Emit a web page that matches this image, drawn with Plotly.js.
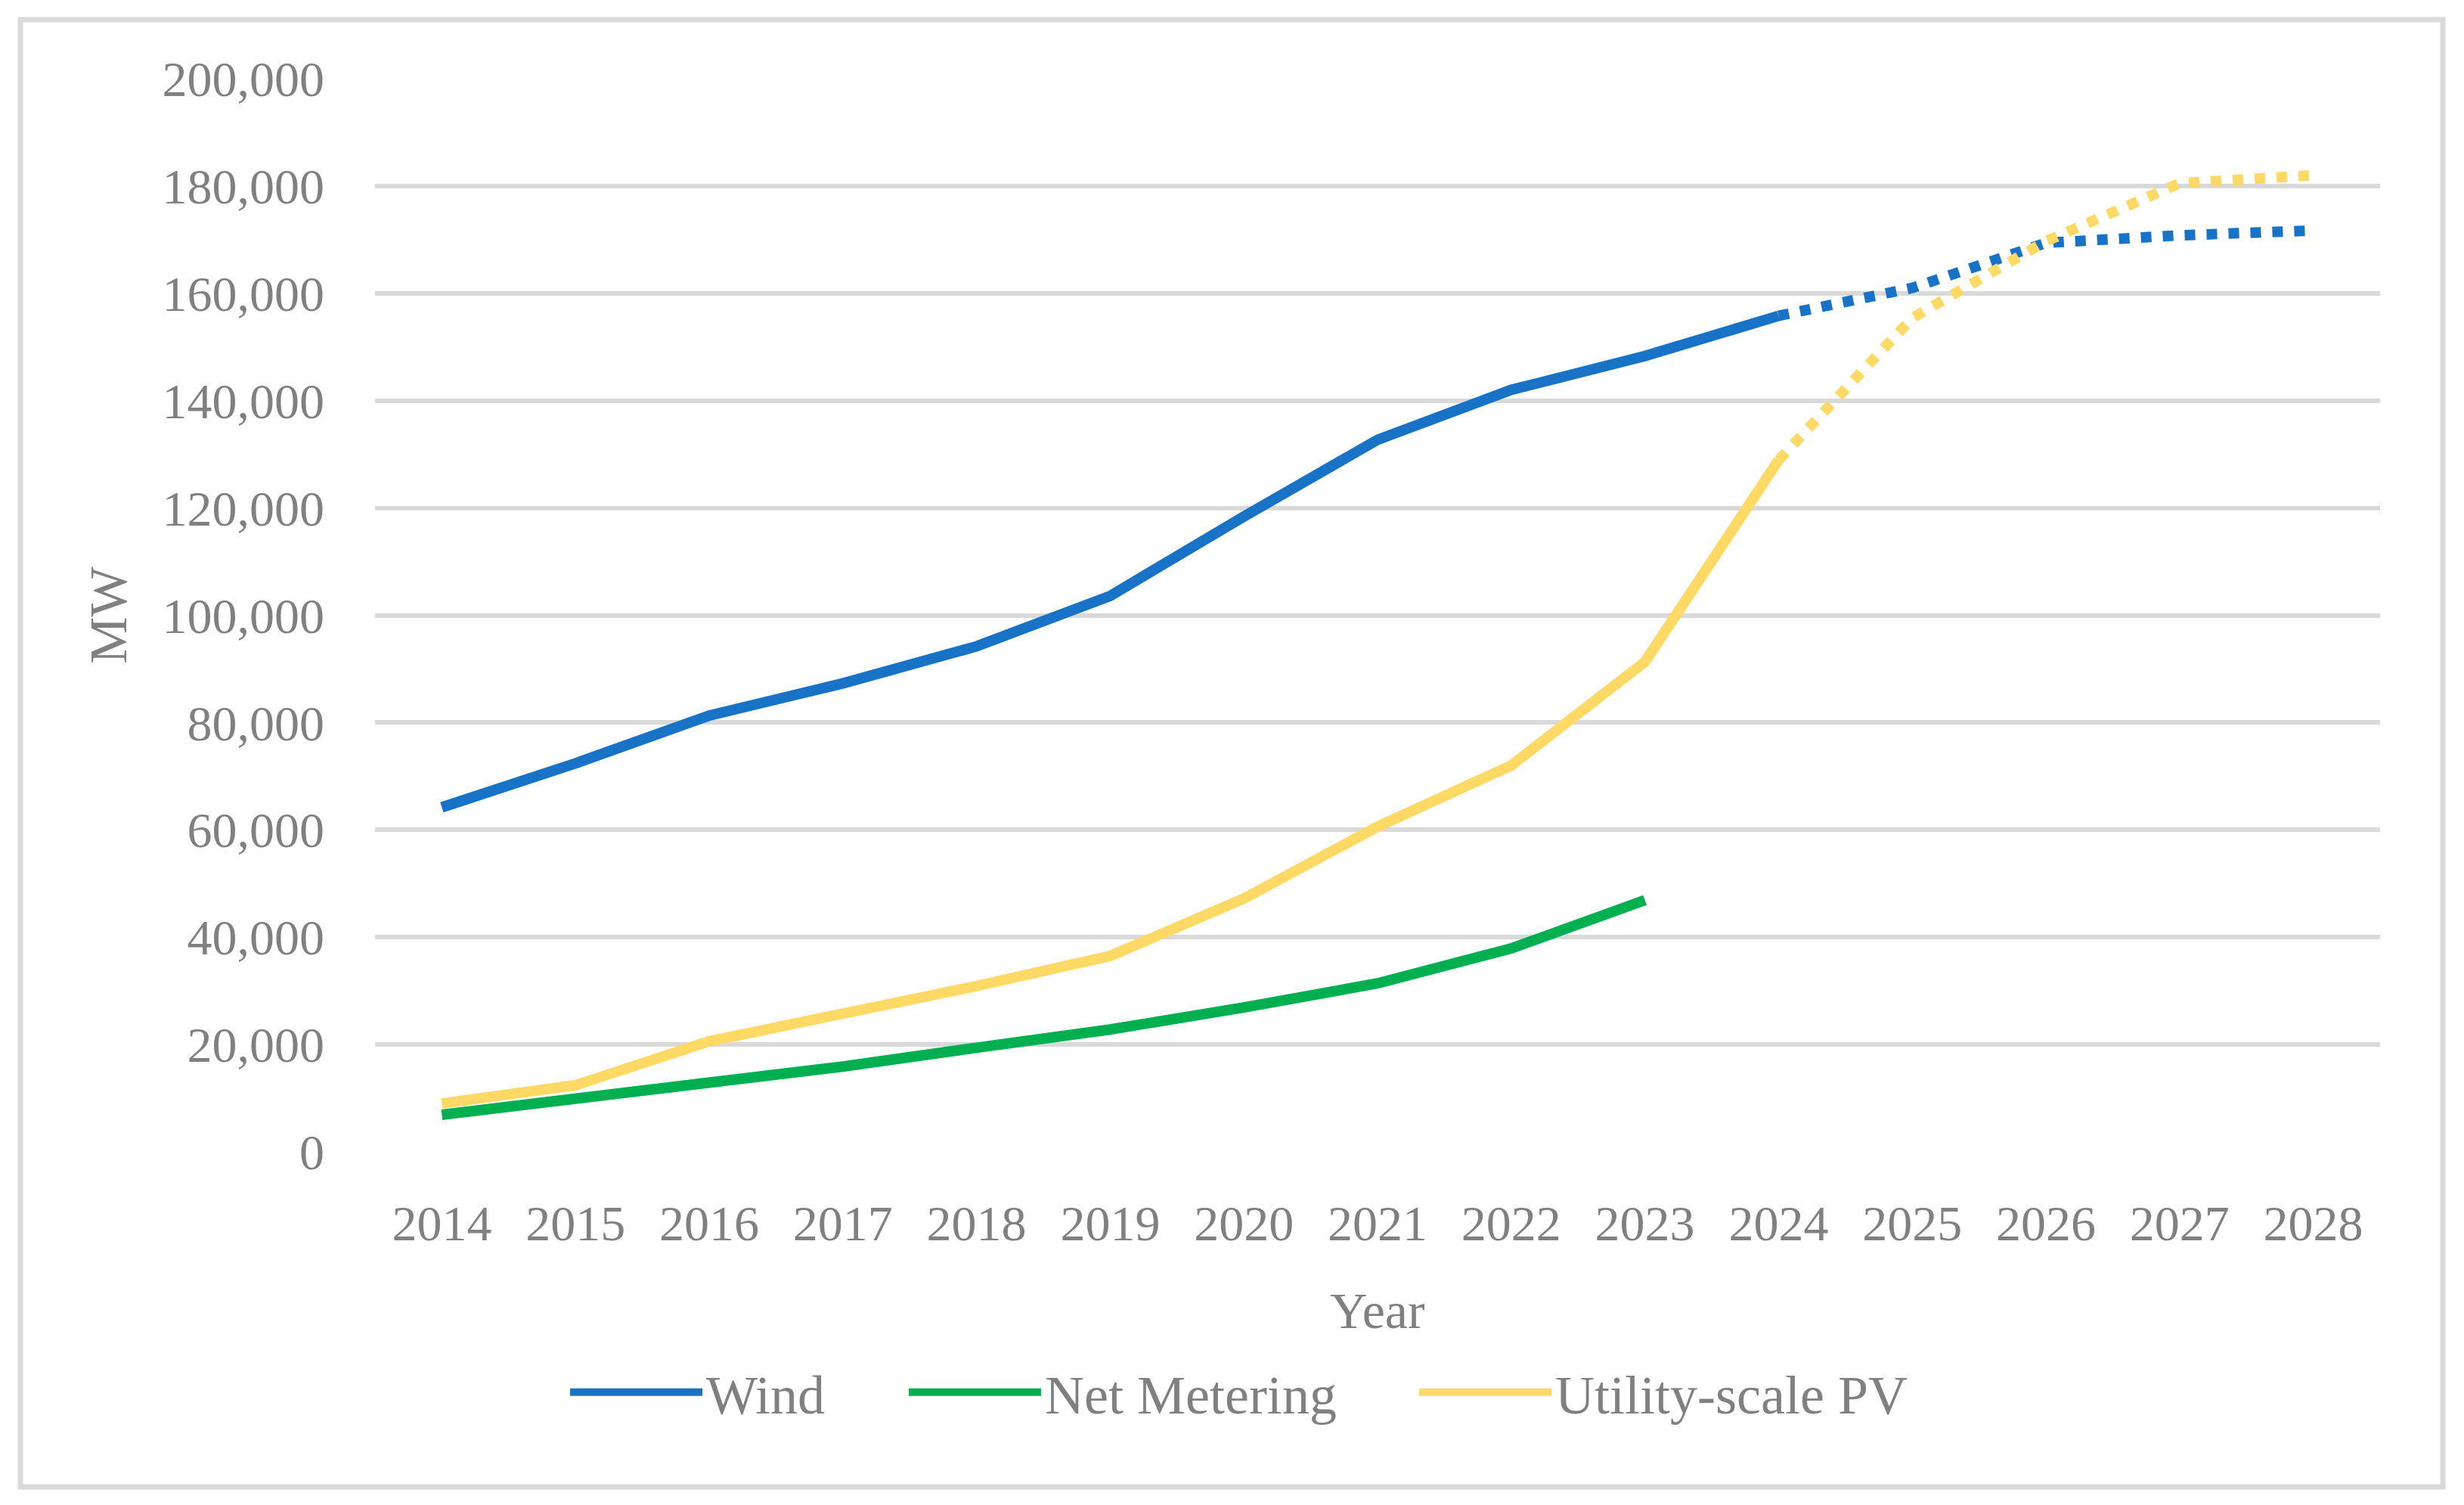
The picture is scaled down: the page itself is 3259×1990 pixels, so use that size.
<!DOCTYPE html>
<html>
<head>
<meta charset="utf-8">
<script src="https://cdn.plot.ly/plotly-3.0.1.min.js"></script>
<style>html,body{margin:0;padding:0;background:#fff;}#chart{width:3259px;height:1990px;}</style>
</head>
<body>
<div id="chart"></div>
<script>
const years = ['2014','2015','2016','2017','2018','2019','2020','2021','2022','2023','2024','2025','2026','2027','2028'];
const windYears = ['2014','2015','2016','2017','2018','2019','2020','2021','2022','2023','2024'];
const windValues = [64200, 72400, 81300, 87300, 94200, 103600, 118400, 132700, 142000, 148300, 155800];
const windProjYears = ['2024','2025','2026','2027','2028'];
const windProjValues = [155800, 161000, 169400, 170800, 171700];
const netYears = ['2014','2015','2016','2017','2018','2019','2020','2021','2022','2023'];
const netValues = [6900, 9800, 12900, 15900, 19400, 22800, 26900, 31400, 37900, 46900];
const pvYears = ['2014','2015','2016','2017','2018','2019','2020','2021','2022','2023','2024'];
const pvValues = [9000, 12400, 20600, 25600, 30900, 36500, 47200, 60600, 72000, 91300, 128900];
const pvProjYears = ['2024','2025','2026','2027','2028'];
const pvProjValues = [128900, 155400, 169700, 180500, 182000];
const yTicks = [0, 20000, 40000, 60000, 80000, 100000, 120000, 140000, 160000, 180000, 200000];

const BLUE = '#1872C6', GREEN = '#00B050', GOLD = '#FFD966';
const FONT = 'Liberation Serif, Times New Roman, serif';
const GREY = '#808080';
const LW = 14;

const traces = [
  {x: windYears, y: windValues, name: 'Wind', mode: 'lines', legend: 'legend', line: {color: BLUE, width: LW}},
  {x: netYears, y: netValues, name: 'Net Metering', mode: 'lines', legend: 'legend2', line: {color: GREEN, width: LW}},
  {x: pvYears, y: pvValues, name: 'Utility-scale PV', mode: 'lines', legend: 'legend3', line: {color: GOLD, width: LW}},
  {x: windProjYears, y: windProjValues, name: 'Wind (projected)', mode: 'lines', showlegend: false, line: {color: BLUE, width: LW, dash: '14px,15px'}},
  {x: pvProjYears, y: pvProjValues, name: 'Utility-scale PV (projected)', mode: 'lines', showlegend: false, line: {color: GOLD, width: LW, dash: '14px,15px'}}
];

const L = 496, R = 111, T = 104, B = 467;
const W = 3259, H = 1990;
const pw = W - L - R, ph = H - T - B;
const px = v => (v - L) / pw;
const py = v => (H - B - v) / ph;

const legendFont = {family: FONT, size: 72, color: GREY};
const mkLegend = startX => ({
  orientation: 'h', x: px(startX), xanchor: 'left', y: py(1841), yanchor: 'middle',
  font: legendFont, itemwidth: 175, bgcolor: 'rgba(0,0,0,0)', borderwidth: 0
});

const layout = {
  width: W, height: H,
  margin: {l: L, r: R, t: T, b: B, pad: 0},
  paper_bgcolor: '#ffffff', plot_bgcolor: '#ffffff',
  font: {family: FONT, color: GREY, size: 66},
  showlegend: true,
  xaxis: {
    type: 'category', categoryorder: 'array', categoryarray: years,
    range: [-0.5, 14.5], showgrid: false, zeroline: false, showline: false,
    ticks: '', ticklabelstandoff: 50,
    tickfont: {family: FONT, size: 66, color: GREY},
    title: {text: 'Year', font: {family: FONT, size: 68, color: GREY}, standoff: 55}
  },
  yaxis: {
    range: [0, 200000], tickvals: yTicks, tickformat: ',d',
    showgrid: true, gridcolor: '#D9D9D9', gridwidth: 6, zeroline: false, showline: false,
    ticks: '', ticklabelstandoff: 66,
    tickfont: {family: FONT, size: 66, color: GREY},
    title: {text: 'MW', font: {family: FONT, size: 70, color: GREY}, standoff: 24}
  },
  legend: mkLegend(749),
  legend2: mkLegend(1197),
  legend3: mkLegend(1872),
  shapes: [
    {type: 'rect', xref: 'paper', yref: 'paper', x0: px(27), x1: px(3231), y0: py(1966), y1: py(26),
     line: {color: '#D9D9D9', width: 7}, fillcolor: 'rgba(0,0,0,0)', layer: 'below'}
  ]
};

Plotly.newPlot('chart', traces, layout, {staticPlot: true, displayModeBar: false});
</script>
</body>
</html>
